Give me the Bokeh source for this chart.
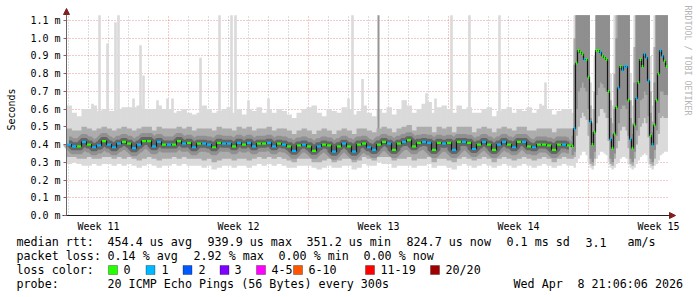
import numpy as np
from math import pi
from bokeh.plotting import figure
from bokeh.models import Range1d, FixedTicker, Label, BoxAnnotation, Arrow, NormalHead
from bokeh.embed import file_html
from bokeh.resources import INLINE

# ---------------- data (median RTT in ms) ----------------
# steady part: 0.25-day bins starting at day 1.9
S_START, S_STEP = 1.9, 0.25
s_med = [0.40, 0.39, 0.39, 0.415, 0.40, 0.385, 0.395, 0.42, 0.40, 0.385, 0.405, 0.415, 0.405, 0.38, 0.40, 0.42, 0.42, 0.39, 0.415, 0.40,
         0.40, 0.40, 0.42, 0.405, 0.41, 0.385, 0.405, 0.405, 0.40, 0.385, 0.41, 0.405, 0.405, 0.39, 0.41, 0.40, 0.41, 0.39, 0.405, 0.405, 0.41,
         0.39, 0.405, 0.40, 0.39, 0.365, 0.395, 0.40, 0.39, 0.365, 0.39, 0.40, 0.395, 0.36, 0.39, 0.405, 0.39, 0.36, 0.40, 0.405, 0.385,
         0.37, 0.40, 0.415, 0.405, 0.37, 0.405, 0.415, 0.425, 0.39, 0.41, 0.415, 0.41, 0.37, 0.41, 0.405, 0.41, 0.37, 0.415, 0.415, 0.41, 0.375,
         0.40, 0.415, 0.40, 0.37, 0.40, 0.415, 0.40, 0.385, 0.415, 0.415, 0.39, 0.385, 0.40, 0.40, 0.395, 0.37, 0.40, 0.40, 0.395]
s_loss = [1, 1, 0, 1, 0, 1, 1, 0, 1, 1, 1, 0, 0, 1, 1, 0, 0, 1, 1, 0,
          1, 0, 0, 1, 0, 1, 0, 1, 1, 0, 0, 1, 1, 0, 1, 0, 1, 1, 0, 0, 1,
          1, 0, 1, 0, 1, 0, 1, 0, 0, 1, 0, 0, 1, 0, 1, 0, 1, 0, 0, 1,
          1, 0, 0, 1, 0, 0, 1, 0, 0, 0, 1, 1, 0, 0, 1, 0, 1, 0, 1, 0, 1,
          0, 1, 0, 0, 1, 1, 0, 1, 0, 1, 0, 1, 0, 0, 0, 0, 0, 1, 0]
s_lo = [0.29, 0.30, 0.29, 0.28, 0.28, 0.29, 0.28, 0.29, 0.29, 0.28, 0.29, 0.28, 0.29, 0.28, 0.27, 0.28, 0.29, 0.28, 0.27, 0.28,
        0.28, 0.29, 0.28, 0.29, 0.28, 0.28, 0.28, 0.27, 0.28, 0.26, 0.27, 0.28, 0.28, 0.27, 0.28, 0.28, 0.27, 0.28, 0.29, 0.28, 0.29,
        0.28, 0.29, 0.28, 0.27, 0.27, 0.28, 0.28, 0.28, 0.27, 0.26, 0.27, 0.28, 0.27, 0.27, 0.28, 0.28, 0.26, 0.27, 0.29, 0.28,
        0.28, 0.30, 0.29, 0.29, 0.27, 0.28, 0.28, 0.28, 0.27, 0.28, 0.28, 0.29, 0.27, 0.28, 0.28, 0.27, 0.26, 0.28, 0.29, 0.28, 0.27,
        0.28, 0.29, 0.28, 0.27, 0.28, 0.29, 0.28, 0.27, 0.28, 0.29, 0.28, 0.27, 0.28, 0.29, 0.28, 0.27, 0.28, 0.29, 0.28]
s_qlo = [0.33, 0.33, 0.32, 0.32, 0.33, 0.32, 0.32, 0.33, 0.33, 0.32, 0.33, 0.32, 0.33, 0.32, 0.31, 0.32, 0.33, 0.32, 0.31, 0.32,
         0.32, 0.33, 0.32, 0.33, 0.32, 0.32, 0.32, 0.31, 0.32, 0.30, 0.31, 0.32, 0.32, 0.31, 0.32, 0.32, 0.31, 0.32, 0.33, 0.32, 0.33,
         0.32, 0.33, 0.32, 0.31, 0.30, 0.32, 0.32, 0.32, 0.30, 0.30, 0.31, 0.32, 0.30, 0.31, 0.32, 0.32, 0.30, 0.31, 0.33, 0.32,
         0.31, 0.33, 0.33, 0.33, 0.31, 0.32, 0.32, 0.33, 0.31, 0.32, 0.32, 0.33, 0.30, 0.32, 0.32, 0.31, 0.30, 0.32, 0.33, 0.32, 0.31,
         0.32, 0.33, 0.32, 0.30, 0.32, 0.33, 0.32, 0.31, 0.32, 0.33, 0.32, 0.31, 0.32, 0.33, 0.32, 0.30, 0.32, 0.33, 0.32]
s_qhi = [0.49, 0.48, 0.48, 0.50, 0.49, 0.48, 0.49, 0.50, 0.49, 0.48, 0.49, 0.50, 0.49, 0.48, 0.49, 0.50, 0.50, 0.48, 0.50, 0.49,
         0.49, 0.49, 0.50, 0.49, 0.50, 0.48, 0.49, 0.49, 0.49, 0.48, 0.50, 0.49, 0.49, 0.48, 0.50, 0.49, 0.50, 0.48, 0.49, 0.49, 0.50,
         0.48, 0.49, 0.49, 0.48, 0.46, 0.48, 0.49, 0.48, 0.46, 0.48, 0.49, 0.48, 0.46, 0.48, 0.49, 0.48, 0.46, 0.49, 0.49, 0.48,
         0.47, 0.49, 0.50, 0.49, 0.47, 0.49, 0.50, 0.51, 0.48, 0.50, 0.50, 0.50, 0.47, 0.50, 0.49, 0.50, 0.47, 0.50, 0.50, 0.50, 0.47,
         0.49, 0.50, 0.49, 0.47, 0.49, 0.50, 0.49, 0.48, 0.50, 0.50, 0.48, 0.48, 0.49, 0.49, 0.49, 0.47, 0.49, 0.49, 0.49]
s_hi = [0.62, 0.58, 0.56, 0.60, 0.60, 0.62, 0.59, 0.60, 0.59, 0.59, 0.60, 0.61, 0.61, 0.61, 0.62, 0.60, 0.60, 0.60, 0.62, 0.60,
        0.60, 0.58, 0.59, 0.60, 0.58, 0.57, 0.58, 0.62, 0.60, 0.58, 0.59, 0.60, 0.61, 0.58, 0.60, 0.57, 0.60, 0.59, 0.61, 0.58, 0.60,
        0.58, 0.60, 0.59, 0.57, 0.55, 0.58, 0.60, 0.61, 0.62, 0.58, 0.56, 0.60, 0.59, 0.58, 0.61, 0.60, 0.57, 0.59, 0.62, 0.58,
        0.56, 0.60, 0.58, 0.61, 0.57, 0.60, 0.65, 0.62, 0.58, 0.60, 0.63, 0.64, 0.58, 0.61, 0.62, 0.60, 0.58, 0.62, 0.60, 0.61, 0.58,
        0.58, 0.60, 0.61, 0.56, 0.59, 0.60, 0.61, 0.58, 0.60, 0.59, 0.61, 0.58, 0.60, 0.62, 0.60, 0.57, 0.59, 0.60, 0.60]

# unstable part: 0.1-day bins starting at day 27.15
W_START, W_STEP = 27.15, 0.1
w_med = [0.39, 0.49, 0.86, 0.93, 0.92, 0.91, 0.88, 0.88, 0.78, 0.53, 0.40, 0.47, 0.93, 0.93, 0.92, 0.90, 0.89, 0.88, 0.70, 0.43,
         0.38, 0.46, 0.61, 0.72, 0.84, 0.82, 0.84, 0.84, 0.65, 0.43, 0.38, 0.51, 0.66, 0.75, 0.88, 0.84, 0.91, 0.89, 0.76, 0.45,
         0.40, 0.51, 0.65, 0.80, 0.93, 0.90, 0.87, 0.84]
w_loss = [0, 1, 0, 0, 0, 0, 1, 0, 0, 1, 0, 0, 0, 0, 1, 0, 0, 0, 0, 1,
          0, 0, 0, 1, 0, 1, 1, 1, 0, 1, 0, 0, 1, 0, 0, 0, 1, 1, 1, 0,
          1, 0, 0, 0, 1, 1, 0, 0]
w_lo = [0.28, 0.27, 0.30, 0.32, 0.34, 0.36, 0.36, 0.34, 0.30, 0.27, 0.26, 0.28, 0.32, 0.34, 0.36, 0.36, 0.35, 0.34, 0.30, 0.27,
        0.26, 0.27, 0.29, 0.30, 0.32, 0.33, 0.33, 0.32, 0.29, 0.27, 0.26, 0.27, 0.29, 0.31, 0.33, 0.34, 0.35, 0.34, 0.30, 0.27,
        0.26, 0.28, 0.29, 0.31, 0.34, 0.35, 0.36, 0.36]
w_qlo = [0.32, 0.33, 0.45, 0.50, 0.55, 0.58, 0.56, 0.54, 0.45, 0.29, 0.28, 0.32, 0.52, 0.56, 0.60, 0.60, 0.58, 0.55, 0.42, 0.29,
         0.28, 0.32, 0.38, 0.42, 0.48, 0.50, 0.50, 0.48, 0.38, 0.29, 0.28, 0.32, 0.40, 0.45, 0.50, 0.52, 0.55, 0.52, 0.44, 0.29,
         0.28, 0.32, 0.40, 0.46, 0.55, 0.56, 0.55, 0.55]
w_dlo = [0.34, 0.36, 0.60, 0.70, 0.72, 0.75, 0.72, 0.70, 0.60, 0.32, 0.30, 0.36, 0.68, 0.72, 0.75, 0.74, 0.72, 0.70, 0.55, 0.32,
         0.30, 0.35, 0.45, 0.52, 0.60, 0.62, 0.62, 0.60, 0.45, 0.32, 0.30, 0.36, 0.48, 0.55, 0.65, 0.66, 0.70, 0.68, 0.56, 0.32,
         0.30, 0.37, 0.48, 0.58, 0.70, 0.70, 0.68, 0.68]
w_dhi = [0.45, 0.85, 1.13, 1.13, 1.13, 1.13, 1.13, 1.13, 1.13, 0.55, 0.47, 0.60, 1.13, 1.13, 1.13, 1.13, 1.13, 1.13, 1.13, 0.55,
         0.46, 0.60, 1.00, 1.13, 1.13, 1.13, 1.13, 1.13, 1.13, 0.55, 0.46, 0.75, 1.13, 1.13, 1.13, 1.13, 1.13, 1.13, 1.13, 0.58,
         0.47, 0.75, 1.13, 1.13, 1.13, 1.13, 1.13, 1.13]
w_qhi = [0.49, 1.00, 1.13, 1.13, 1.13, 1.13, 1.13, 1.13, 1.13, 0.62, 0.52, 0.70, 1.13, 1.13, 1.13, 1.13, 1.13, 1.13, 1.13, 0.65,
         0.52, 0.80, 1.13, 1.13, 1.13, 1.13, 1.13, 1.13, 1.13, 0.65, 0.52, 0.95, 1.13, 1.13, 1.13, 1.13, 1.13, 1.13, 1.13, 0.70,
         0.53, 0.95, 1.13, 1.13, 1.13, 1.13, 1.13, 1.13]
w_hi = [0.58, 1.13, 1.13, 1.13, 1.13, 1.13, 1.13, 1.13, 1.13, 0.75, 0.60, 0.90, 1.13, 1.13, 1.13, 1.13, 1.13, 1.13, 1.13, 0.80,
        0.62, 1.13, 1.13, 1.13, 1.13, 1.13, 1.13, 1.13, 1.13, 0.80, 0.62, 1.13, 1.13, 1.13, 1.13, 1.13, 1.13, 1.13, 1.13, 0.90,
        0.62, 1.13, 1.13, 1.13, 1.13, 1.13, 1.13, 1.13]

# single high outliers (day, top in ms)
spike_day = [3.20, 3.55, 3.95, 4.35, 4.50, 5.25, 5.60, 5.75, 6.45, 6.95, 7.20, 8.60, 9.55, 10.15, 10.35,
             11.00, 12.00, 16.00, 16.20, 16.70, 18.80, 19.90, 20.35, 21.15, 22.05, 23.55, 25.60, 25.85]
spike_top = [0.63, 1.13, 0.97, 1.09, 1.13, 0.66, 0.96, 0.79, 0.65, 0.66, 0.66, 0.89, 1.13, 1.13, 1.13,
             0.65, 0.66, 0.66, 1.13, 0.77, 0.65, 0.69, 0.66, 1.13, 1.13, 1.13, 0.63, 0.75]
dark_spike_day = [17.50]
dark_spike_top = [1.13]

y_ticks = [0.0, 0.1, 0.2, 0.3, 0.4, 0.5, 0.6, 0.7, 0.8, 0.9, 1.0, 1.1]
y_labels = ["0.0 m", "0.1 m", "0.2 m", "0.3 m", "0.4 m", "0.5 m", "0.6 m", "0.7 m", "0.8 m", "0.9 m", "1.0 m", "1.1 m"]
week_starts = [7, 14, 21, 28]
day_lines = [2, 3, 4, 5, 6, 8, 9, 10, 11, 12, 13, 15, 16, 17, 18, 19, 20, 22, 23, 24, 25, 26, 27, 29, 30, 31]
week_mid = [3.5, 10.5, 17.5, 24.5, 31.5]
week_labels = ["Week 11", "Week 12", "Week 13", "Week 14", "Week 15"]
loss_colors = ["#26ff00", "#00b8ff", "#0059ff", "#7e00ff", "#ff00ff", "#ff5500", "#ff0000", "#a10000"]
loss_labels = ["0", "1", "2", "3", "4-5", "6-10", "11-19", "20/20"]

# ---------------- layout: the frame covers the whole canvas ----------------
W, H = 697, 297
FL, FR, FT, FB = 66, 668, 14, 215        # chart area in canvas pixels
PX_PER_DAY = 20.0
PX_PER_MS = 177.3
X_END = S_START + (FR - FL) / PX_PER_DAY
Y_END = (FB - FT) / PX_PER_MS


def X(px):
    return S_START + (px - FL) / PX_PER_DAY


def Y(py):
    return (FB - py) / PX_PER_MS


MONO = "DejaVu Sans Mono"

p = figure(width=W, height=H, x_range=Range1d(X(0), X(W)), y_range=Range1d(Y(H), Y(0)),
           output_backend="svg", toolbar_location=None, min_border=0)
p.outline_line_color = None
p.background_fill_color = "white"
p.border_fill_color = "white"

# grids
MAJ = "rgba(222,79,79,0.6)"
MIN = "rgba(143,143,143,0.6)"
manual_grid = False
try:
    p.xgrid.cross_bounds = (0, Y_END)
    p.ygrid.cross_bounds = (S_START, X_END)
except Exception:
    manual_grid = True

if not manual_grid:
    p.xgrid.ticker = FixedTicker(ticks=week_starts, minor_ticks=day_lines)
    p.xgrid.bounds = (S_START, X_END)
    p.xgrid.grid_line_color = MAJ
    p.xgrid.grid_line_dash = "1 2"
    p.xgrid.minor_grid_line_color = MIN
    p.xgrid.minor_grid_line_dash = "1 2"
    p.ygrid.ticker = FixedTicker(ticks=y_ticks)
    p.ygrid.bounds = (0, Y_END)
    p.ygrid.grid_line_color = MAJ
    p.ygrid.grid_line_dash = "1 2"
else:
    p.xgrid.visible = False
    p.ygrid.visible = False
    p.segment(x0=day_lines, x1=day_lines, y0=0, y1=Y_END, line_color=MIN, line_dash="1 2", line_width=1)
    p.segment(x0=week_starts, x1=week_starts, y0=0, y1=Y_END, line_color=MAJ, line_dash="1 2", line_width=1)
    p.segment(x0=S_START, x1=X_END, y0=y_ticks, y1=y_ticks, line_color=MAJ, line_dash="1 2", line_width=1)

# axes placed inside the frame
p.yaxis.fixed_location = S_START
p.yaxis.bounds = (0, Y_END)
p.yaxis.ticker = FixedTicker(ticks=y_ticks)
p.yaxis.major_label_overrides = dict(zip(y_ticks, y_labels))
p.yaxis.major_label_text_font = MONO
p.yaxis.major_label_text_font_size = "10px"
p.yaxis.major_label_text_color = "black"
p.yaxis.major_tick_out = 3
p.yaxis.major_tick_in = 0
p.yaxis.major_tick_line_color = "#b05050"
p.yaxis.minor_tick_line_color = None
p.yaxis.major_label_standoff = 3
p.yaxis.axis_line_color = "#666666"

p.xaxis.fixed_location = 0
p.xaxis.bounds = (S_START - 0.2, X_END)
p.xaxis.ticker = FixedTicker(ticks=week_mid)
p.xaxis.major_label_overrides = dict(zip(week_mid, week_labels))
p.xaxis.major_label_text_font = MONO
p.xaxis.major_label_text_font_size = "10px"
p.xaxis.major_label_text_color = "black"
p.xaxis.major_tick_line_color = None
p.xaxis.major_tick_out = 0
p.xaxis.major_tick_in = 0
p.xaxis.minor_tick_line_color = None
p.xaxis.major_label_standoff = 5
p.xaxis.axis_line_color = "#1f1f1f"

# ---------------- smoke ----------------
ns, nw = len(s_med), len(w_med)
OVL = 0.02   # tiny overlap so neighbouring columns leave no seams
s_left = S_START + S_STEP * np.arange(ns)
s_right = s_left + S_STEP
w_left = W_START + W_STEP * np.arange(nw)
w_right = w_left + W_STEP

LIGHT, MED, DARK = "#dadada", "#acacac", "#8e8e8e"

p.quad(left=s_left, right=s_right + OVL, bottom=s_lo, top=s_hi, fill_color=LIGHT, line_color=None)
p.quad(left=w_left, right=w_right + OVL, bottom=w_lo, top=w_hi, fill_color=LIGHT, line_color=None)

sd = np.array(spike_day)
p.quad(left=sd - 0.065, right=sd + 0.065, bottom=0.45, top=spike_top, fill_color=LIGHT, line_color=None)
dd = np.array(dark_spike_day)
p.quad(left=dd - 0.05, right=dd + 0.05, bottom=0.45, top=dark_spike_top, fill_color="#959595", line_color=None)

p.quad(left=s_left, right=s_right + OVL, bottom=s_qlo, top=s_qhi, fill_color=MED, line_color=None)
p.quad(left=w_left, right=w_right + OVL, bottom=w_qlo, top=w_qhi, fill_color=MED, line_color=None)
p.quad(left=w_left, right=w_right + OVL, bottom=w_dlo, top=w_dhi, fill_color=DARK, line_color=None)

s_center = s_left + S_STEP / 2
# darker smoke core around the median (stepped like the data)
p.step(s_center, s_med, mode="center", line_width=16, line_color="#7a7a7a", line_alpha=0.55)
p.step(s_center, s_med, mode="center", line_width=8, line_color="#3a3a3a", line_alpha=0.5)

# median
all_center = np.concatenate([s_center, w_left + W_STEP / 2])
all_med = list(s_med) + list(w_med)
p.step(all_center, all_med, mode="center", line_color="#151515", line_width=1.2)

s_col = [loss_colors[v] for v in s_loss]
w_col = [loss_colors[v] for v in w_loss]
p.segment(x0=s_left + 0.02, x1=s_right - 0.02, y0=s_med, y1=s_med, line_color=s_col, line_width=2.2)
p.segment(x0=w_left + 0.01, x1=w_right - 0.01, y0=w_med, y1=w_med, line_color=w_col, line_width=3)

# arrows at axis ends
p.add_layout(Arrow(end=NormalHead(size=6, fill_color="#801f1f", line_color="#801f1f"),
                   x_start=S_START, y_start=Y_END, x_end=S_START, y_end=Y(8),
                   line_color="#666666", line_width=1))
p.add_layout(Arrow(end=NormalHead(size=6, fill_color="#801f1f", line_color="#801f1f"),
                   x_start=X_END - 0.02, y_start=0, x_end=X(675), y_end=0,
                   line_color="#1f1f1f", line_width=1))

# axis title and watermark
p.add_layout(Label(x=X(11), y=Y(109), text="Seconds", angle=pi / 2, text_align="center",
                   text_baseline="middle", text_font=MONO, text_font_size="10px", text_color="black"))
p.add_layout(Label(x=X(687), y=Y(5), text="RRDTOOL / TOBI OETIKER", angle=-pi / 2,
                   text_align="left", text_baseline="middle", text_font=MONO,
                   text_font_size="8.3px", text_color="#b4b4b4"))

# ---------------- legend ----------------
LEG_FS = "11.7px"


def txt(s, px, py):
    p.add_layout(Label(x=X(px), y=Y(py), text=s, text_align="left", text_baseline="middle",
                       text_font=MONO, text_font_size=LEG_FS, text_color="black"))


for s, px in [("median rtt:", 16), ("454.4 us avg", 107), ("939.9 us max", 207), ("351.2 us min", 306),
              ("824.7 us now", 406), ("0.1 ms sd", 506), ("3.1", 585), ("am/s", 627)]:
    txt(s, px, 241.5)
for s, px in [("packet loss:", 16), ("0.14 % avg", 107), ("2.92 % max", 193), ("0.00 % min", 278), ("0.00 % now", 363)]:
    txt(s, px, 255)
txt("loss color:", 16, 269)
box_left = [108, 145.5, 182.5, 219.5, 256, 293, 365, 430]
lab_left = [123, 161, 198, 234, 271, 308, 380, 445]
for c, lab, bl, tl in zip(loss_colors, loss_labels, box_left, lab_left):
    p.add_layout(BoxAnnotation(left=X(bl), right=X(bl + 9), top=Y(265), bottom=Y(274),
                               fill_color=c, fill_alpha=1.0, line_color="black", line_width=1))
    txt(lab, tl, 269)
for s, px in [("probe:", 16), ("20 ICMP Echo Pings (56 Bytes) every 300s", 107), ("Wed Apr", 513), ("8 21:06:06 2026", 577)]:
    txt(s, px, 283)

open("out.html", "w").write(file_html(p, INLINE))
